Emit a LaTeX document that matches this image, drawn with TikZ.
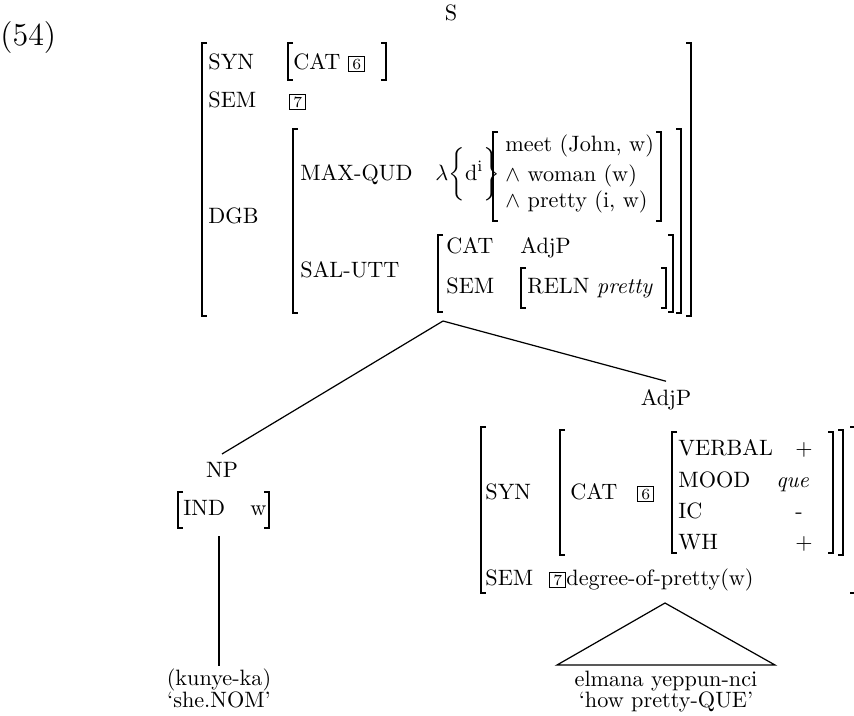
\documentclass[tikz,border=0pt]{standalone}
\setlength{\fboxsep}{0.9pt}
\newcommand{\tagbox}[1]{\fbox{\makebox[5pt]{\scriptsize #1}}}
\newcommand{\avmL}[3]{\draw[brk] (#1+\hk,#2) -- (#1,#2) -- (#1,#3) -- (#1+\hk,#3);}
\newcommand{\avmR}[3]{\draw[brk] (#1-\hk,#2) -- (#1,#2) -- (#1,#3) -- (#1-\hk,#3);}

\begin{document}
\begin{tikzpicture}[x=0.45pt,y=-0.45pt,
  ft/.style={anchor=base west,inner sep=0pt},
  lbl/.style={anchor=base},
  lf/.style={anchor=base,inner sep=1pt},
  brk/.style={line width=0.6pt},
  edge/.style={line width=0.55pt}]
  \def\hk{5}
  \useasboundingbox (0,0) rectangle (854,715);

  \node[ft,font=\Large] (ex) at (0,45) {(54)};
  \node[lbl] (S) at (451,20) {S};

  \avmL{202}{43}{316} \avmR{691}{43}{316}
  \node[ft] (syn) at (208,69) {SYN};
  \avmL{288}{43}{80} \avmR{386}{43}{80}
  \node[ft] (cat) at (293,69) {CAT};
  \node[ft] (t6) at (348,69) {\tagbox{6}};
  \node[ft] (sem) at (208,107) {SEM};
  \node[ft] (t7) at (289,107) {\tagbox{7}};
  \node[ft] (dgb) at (208,223) {DGB};
  \avmL{293}{129}{313} \avmR{681}{129}{313}
  \node[ft] (maxqud) at (300,180) {MAX-QUD};
  \node[ft] (lam) at (435,180) {$\lambda\bigg\{\mathrm{d}^{\mathrm{i}}\bigg\}$};
  \avmL{493}{132}{221} \avmR{661}{132}{221}
  \node[ft] (meet) at (505,151) {meet (John, w)};
  \node[ft] (woman) at (505,181) {$\wedge$ woman (w)};
  \node[ft] (pretty) at (505,207) {$\wedge$ pretty (i, w)};
  \node[ft] (salutt) at (300,277) {SAL-UTT};
  \avmL{438}{235}{312} \avmR{673}{235}{312}
  \node[ft] (scat) at (446,253) {CAT};
  \node[ft] (sadjp) at (520,253) {AdjP};
  \node[ft] (ssem) at (446,293) {SEM};
  \avmL{521}{268}{308} \avmR{666}{268}{308}
  \node[ft] (reln) at (527,293) {RELN \textit{pretty}};

  \coordinate (Sroot) at (443,321);
  \node[lbl] (NP) at (222,477) {NP};
  \node[lbl] (AdjP) at (666,405) {AdjP};
  \draw[edge] (Sroot) -- (NP.north);
  \draw[edge] (Sroot) -- (AdjP.north);

  \avmL{178}{492}{528} \avmR{269}{492}{528}
  \node[ft] (ind) at (183,515) {IND};
  \node[ft] (w) at (250,515) {w};
  \coordinate (NPbot) at (219,536);
  \node[lf] (kunye) at (219,685) {(kunye-ka)};
  \node[lf] (she) at (219,707) {`she.NOM'};
  \draw[edge] (NPbot) -- (kunye.north);

  \avmL{481}{427}{593} \avmR{855}{427}{593}
  \node[ft] (asyn) at (485,499) {SYN};
  \avmL{560}{430}{555} \avmR{843}{430}{555}
  \node[ft] (acat) at (570,499) {CAT};
  \node[ft] (a6) at (637,499) {\tagbox{6}};
  \avmL{672}{432}{553} \avmR{833}{432}{553}
  \node[ft] (verbal) at (678,455) {VERBAL};
  \node[ft] (verbalv) at (795,455) {+};
  \node[ft] (mood) at (678,487) {MOOD};
  \node[ft] (moodv) at (776,487) {\textit{que}};
  \node[ft] (ic) at (678,518) {IC};
  \node[ft] (icv) at (795,518) {-};
  \node[ft] (wh) at (678,549) {WH};
  \node[ft] (whv) at (795,549) {+};
  \node[ft] (asem) at (485,585) {SEM};
  \node[ft] (a7) at (549,585) {\tagbox{7}};
  \node[ft] (deg) at (566,585) {degree-of-pretty(w)};

  \coordinate (tri) at (665,603);
  \draw[edge] (tri) -- ++(-108,62) -- ++(218,0) -- cycle;
  \node[lf] (elmana) at (666,686) {elmana yeppun-nci};
  \node[lf] (how) at (666,707) {`how pretty-QUE'};
\end{tikzpicture}
\end{document}
